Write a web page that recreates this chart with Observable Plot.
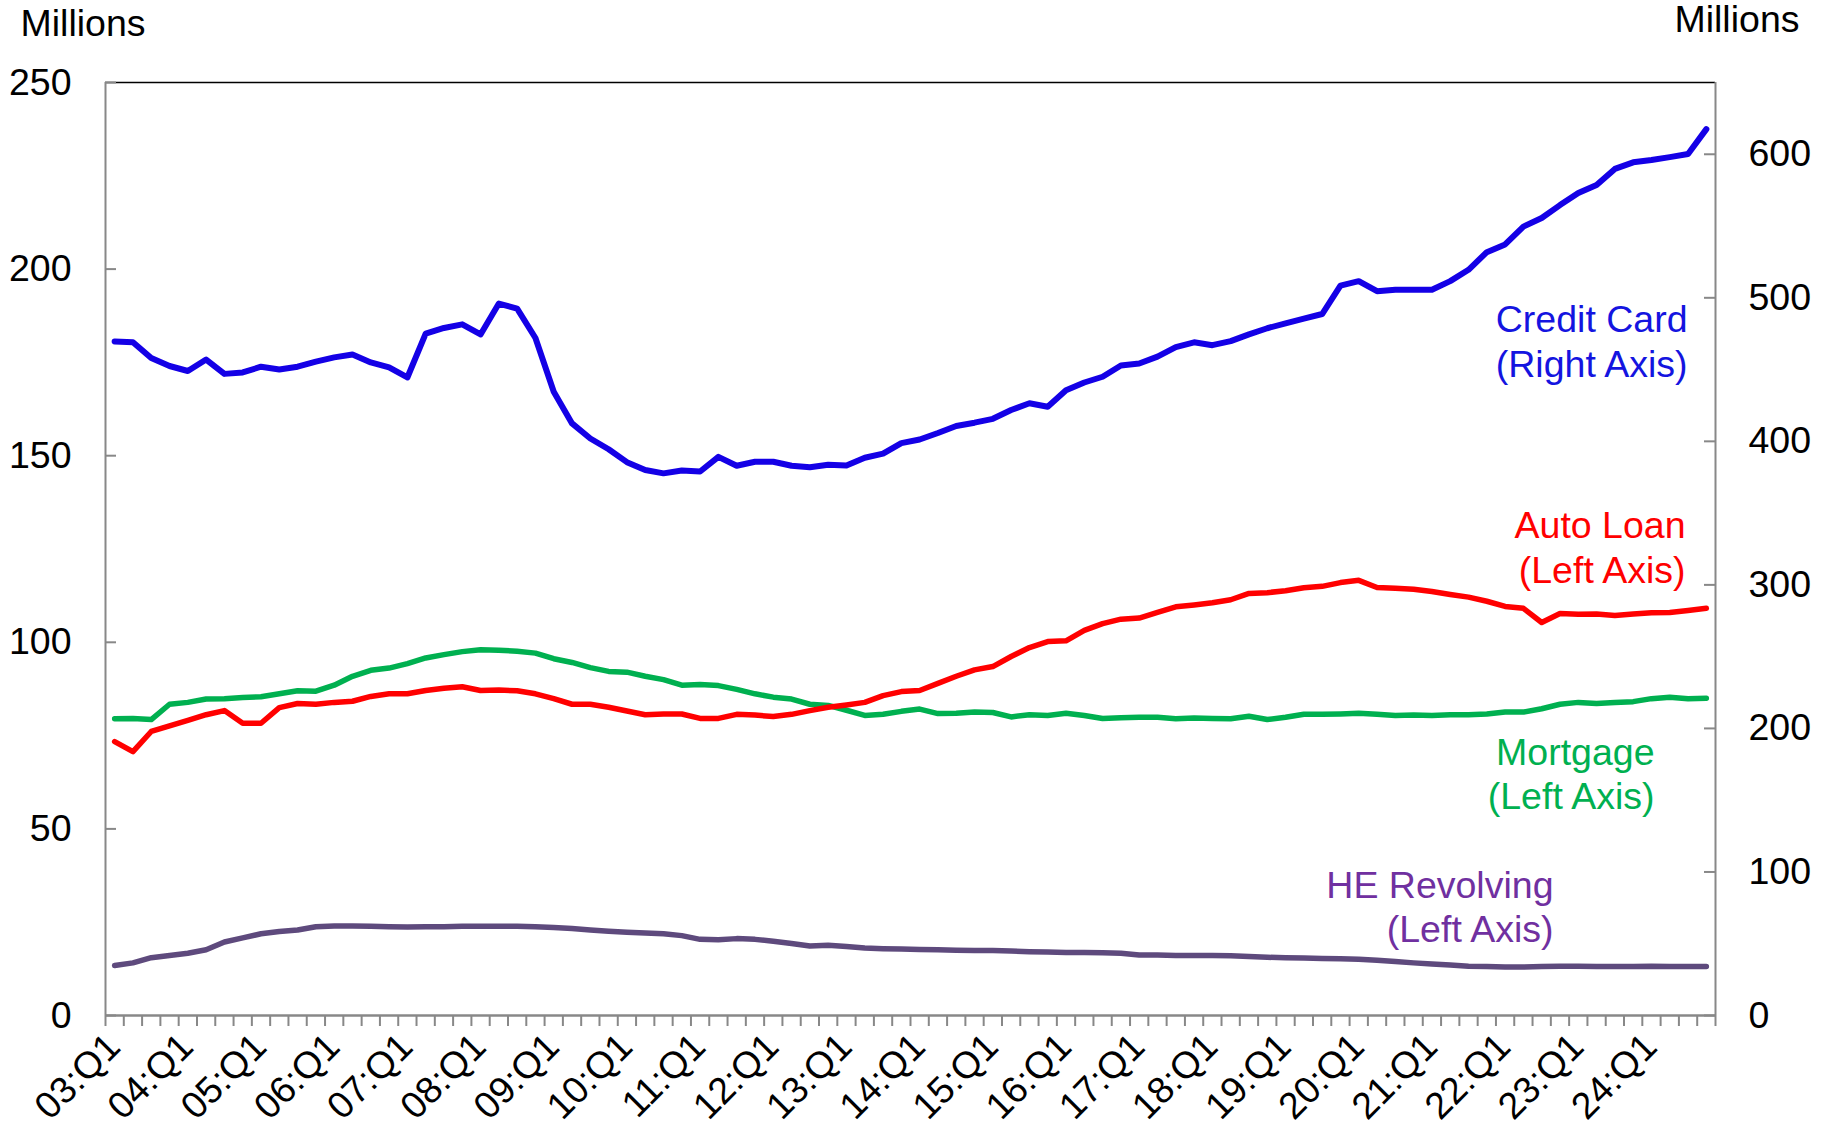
<!DOCTYPE html>
<html>
<head>
<meta charset="utf-8">
<script src="https://cdn.jsdelivr.net/npm/d3@7"></script>
<script src="https://cdn.jsdelivr.net/npm/@observablehq/plot@0.6"></script>
<style>
  html, body { margin: 0; padding: 0; background: #fff; }
  #chart svg { display: block; }
</style>
</head>
<body>
<div id="chart"></div>
<script>
// ---- categories (quarters 2003:Q1 .. 2024:Q4) ----
const quarters = [];
for (let y = 3; y <= 24; y++) for (let q = 1; q <= 4; q++) quarters.push(`${String(y).padStart(2, "0")}:Q${q}`);
const q1Labels = quarters.filter(q => q.endsWith("Q1"));

// ---- series (millions of accounts) ----
// Credit Card – right axis
const creditCard = [469.6,469,458,452.5,449,457,447,448,452,450,452,455.5,458.5,460.5,455,451.5,444.5,475,479,481.5,474.5,496,492.5,472,434.5,412.5,402,394.5,385.5,380,377.7,379.7,379,389.2,383,385.8,385.8,383,381.9,383.7,383.2,388.6,391.4,398.8,401.3,405.8,410.7,413,415.7,421.8,426.5,424.1,435.6,441,445,452.8,454.2,459,465.7,469,467,469.8,474.5,478.8,482.2,485.5,488.7,508.5,511.6,504.6,505.6,505.6,505.6,511.6,519.5,531.8,537.2,549.6,555.6,564.6,573,578.6,589.8,594.4,596,598,600.2,617.5];
// Auto Loan – left axis
const autoLoan = [73.4,70.7,76.1,77.6,79.1,80.6,81.7,78.3,78.3,82.5,83.6,83.4,83.9,84.2,85.5,86.2,86.2,87.1,87.7,88.1,87.1,87.2,87.0,86.2,84.9,83.4,83.4,82.6,81.6,80.6,80.8,80.8,79.6,79.6,80.7,80.5,80.1,80.7,81.7,82.6,83.2,83.9,85.7,86.8,87.1,89.0,90.9,92.6,93.5,96.2,98.6,100.2,100.4,103.2,105.0,106.2,106.5,108.0,109.5,110.0,110.6,111.4,113.1,113.3,113.8,114.6,115.0,116.0,116.6,114.7,114.5,114.2,113.6,112.8,112.1,111.0,109.6,109.1,105.3,107.7,107.5,107.6,107.2,107.6,107.9,108.0,108.5,109.1];
// Mortgage – left axis
const mortgage = [79.5,79.6,79.3,83.4,83.9,84.8,84.9,85.2,85.4,86.2,87.0,86.9,88.5,90.9,92.5,93.1,94.3,95.8,96.7,97.5,98.0,97.9,97.6,97.1,95.6,94.6,93.2,92.2,92.0,90.9,90.0,88.5,88.7,88.4,87.4,86.2,85.3,84.8,83.4,83.1,81.8,80.4,80.7,81.5,82.1,80.9,81.0,81.3,81.2,80.0,80.6,80.4,81.0,80.4,79.6,79.8,79.9,79.9,79.5,79.7,79.6,79.5,80.2,79.3,79.9,80.7,80.7,80.8,81.0,80.7,80.4,80.5,80.4,80.6,80.6,80.8,81.3,81.3,82.2,83.4,83.9,83.6,83.9,84.1,84.9,85.3,84.9,85.0];
// HE Revolving – left axis
const heRevolving = [13.4,14.1,15.5,16.1,16.7,17.6,19.7,20.8,21.9,22.5,22.9,23.8,24.0,24.0,23.9,23.8,23.7,23.8,23.8,23.9,23.9,23.9,23.9,23.8,23.6,23.3,22.9,22.6,22.3,22.1,21.9,21.4,20.4,20.3,20.6,20.4,19.9,19.3,18.6,18.8,18.5,18.1,17.9,17.8,17.7,17.6,17.5,17.4,17.4,17.3,17.1,17.0,16.9,16.9,16.8,16.7,16.2,16.2,16.1,16.1,16.1,16.0,15.8,15.6,15.5,15.4,15.3,15.2,15.1,14.8,14.5,14.1,13.8,13.5,13.2,13.1,13.0,13.0,13.1,13.2,13.2,13.1,13.1,13.1,13.2,13.1,13.1,13.1];

// ---- axis ticks ----
const leftTicks = [0, 50, 100, 150, 200, 250];
const rightTicks = [0, 100, 200, 300, 400, 500, 600];
const leftMax = 250, rightMax = 650;
const k = leftMax / rightMax; // right-axis units -> left-axis units

// ---- series labels ----
const seriesLabels = [
  {text: "Credit Card\n(Right Axis)", y: 171.2, dx: -28, color: "#1414E0"},
  {text: "Auto Loan\n(Left Axis)", y: 116.0, dx: -30, color: "#FF0000"},
  {text: "Mortgage\n(Left Axis)", y: 55.2, dx: -61, color: "#00B050"},
  {text: "HE Revolving\n(Left Axis)", y: 19.6, dx: -162, color: "#7030A0"}
];

// ---- layout ----
const W = 1829, H = 1127;
const mL = 105, mR = 114, mT = 82, mB = 112;
const plotW = W - mL - mR;
const gray = "#888888";
const xDomain = [-0.5, quarters.length - 0.5];
const boundaries = d3.range(quarters.length + 1).map(i => i - 0.5);

const rows = (vals, scale = 1) => vals.map((v, i) => ({i, v: v * scale}));
const lineOpts = {x: "i", y: "v", strokeWidth: 5.5, strokeLinejoin: "round", strokeLinecap: "round"};

const chart = Plot.plot({
  width: W,
  height: H,
  marginLeft: mL,
  marginRight: mR,
  marginTop: mT,
  marginBottom: mB,
  style: {fontFamily: "'Liberation Sans', Arial, sans-serif", fontSize: "37.5px", background: "#fff", color: "#000", overflow: "visible"},
  x: {type: "linear", domain: xDomain},
  y: {type: "linear", domain: [0, leftMax]},
  marks: [
    // frame
    Plot.ruleY([leftMax], {stroke: "#000", strokeWidth: 1.5}),
    Plot.ruleX(xDomain, {stroke: gray, strokeWidth: 2}),
    // inward ticks left & right
    Plot.tickY(leftTicks, {y: d => d, stroke: gray, strokeWidth: 2, insetRight: plotW - 11}),
    Plot.tickY(rightTicks.map(v => v * k), {y: d => d, stroke: gray, strokeWidth: 2, insetLeft: plotW - 11}),
    // x-axis tick marks at category boundaries
    Plot.axisX({ticks: boundaries, tickSize: 11, tickFormat: () => "", stroke: gray, strokeWidth: 2, label: null}),
    Plot.ruleY([0], {stroke: gray, strokeWidth: 2.5}),
    // y-axis labels
    Plot.axisY({anchor: "left", ticks: leftTicks, tickSize: 0, tickPadding: 34, label: null, fill: "#000"}),
    Plot.axisY({anchor: "right", ticks: rightTicks.map(v => v * k), tickFormat: d => String(Math.round(d / k)), tickSize: 0, tickPadding: 33, label: null, fill: "#000"}),
    // x-axis labels
    Plot.text(q1Labels, {x: d => quarters.indexOf(d), text: d => d, frameAnchor: "bottom", rotate: -45, textAnchor: "end", lineAnchor: "middle", dx: -1, dy: 25, fill: "#000"}),
    // "Millions" axis titles
    Plot.text(["Millions"], {text: d => d, frameAnchor: "top-left", textAnchor: "start", lineAnchor: "bottom", dx: -85, dy: -47, fill: "#000"}),
    Plot.text(["Millions"], {text: d => d, frameAnchor: "top-right", textAnchor: "end", lineAnchor: "bottom", dx: 84, dy: -51, fill: "#000"}),
    // lines
    Plot.line(rows(heRevolving), {...lineOpts, stroke: "#5E4A7D"}),
    Plot.line(rows(mortgage), {...lineOpts, stroke: "#00B050"}),
    Plot.line(rows(autoLoan), {...lineOpts, stroke: "#FF0000"}),
    Plot.line(rows(creditCard, k), {...lineOpts, stroke: "#1400E6", strokeWidth: 6}),
    // series labels
    ...seriesLabels.map(l => Plot.text([l], {
      y: d => d.y, text: d => d.text, frameAnchor: "right", textAnchor: "end",
      lineAnchor: "bottom", lineHeight: 1.18, dx: l.dx, fill: l.color
    }))
  ]
});
document.getElementById("chart").appendChild(chart);
</script>
</body>
</html>
